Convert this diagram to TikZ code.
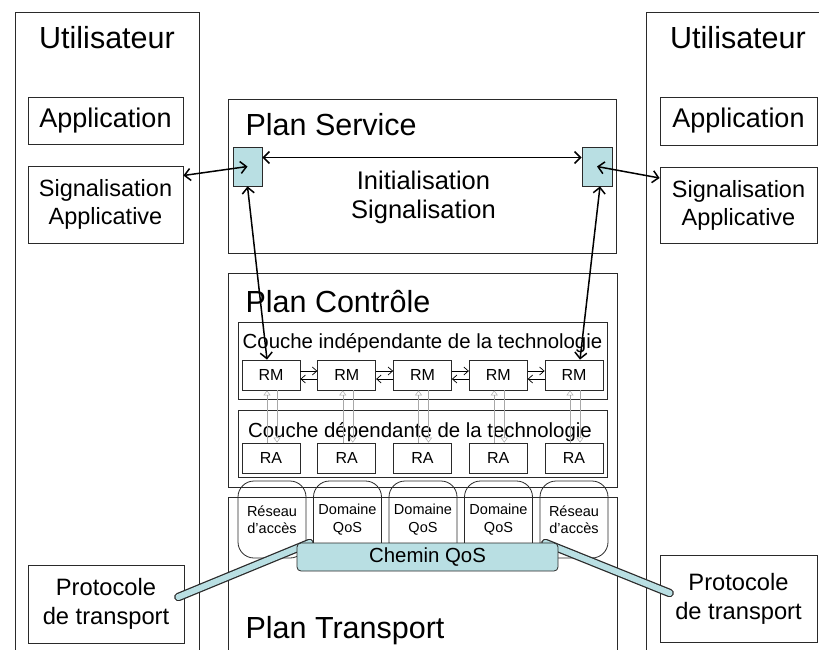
\documentclass[tikz,border=0pt]{standalone}
\usepackage{fontspec}
\setmainfont{Liberation Sans}
\usetikzlibrary{arrows.meta,backgrounds}
\definecolor{qoscyan}{HTML}{B9DFE3}
\definecolor{framegray}{HTML}{2A2A2A}
\definecolor{linkgray}{HTML}{A8A8A8}
\pgfdeclarelayer{tubes}
\pgfdeclarelayer{front}
\pgfsetlayers{background,main,tubes,front}

\tikzset{
  frame/.style={draw=framegray,line width=0.8pt},
  box/.style={frame,inner sep=0pt,align=center},
  sig/.style={line width=1.5pt,{Straight Barb[length=6pt,width=12pt]}-{Straight Barb[length=6pt,width=12pt]}},
  rmlink/.style={line width=0.7pt,-{Straight Barb[length=4.5pt,width=8pt]}},
  galink/.style={draw=linkgray,line width=0.5pt,-{Triangle[open,length=5pt,width=7pt]}},
  tube/.style={draw=framegray,line width=8.5pt,line cap=round,
    postaction={draw=qoscyan,line width=6pt,line cap=round}},
  bigtxt/.style={font=\fontsize{30.5}{36}\selectfont},
}

\begin{document}
\begin{tikzpicture}[x=1pt,y=-1pt]
  \clip (0,0) rectangle (819,649);
  \fill[white] (0,0) rectangle (819,649);

  % colonnes utilisateur
  \draw[frame] (15,660) |- (199,12) -- (199,660);
  \draw[frame] (646,660) |- (830,12);
  \node[bigtxt,anchor=base] (user1) at (107,48) {Utilisateur};
  \node[bigtxt,anchor=base] (user2) at (738,48) {Utilisateur};
  \node[box,minimum width=155pt,minimum height=47pt,font=\fontsize{27}{32}\selectfont] (app1) at (105.5,120.5) {Application};
  \node[box,minimum width=157pt,minimum height=48pt,font=\fontsize{27}{32}\selectfont] (app2) at (738.5,121) {Application};
  \node[box,minimum width=155pt,minimum height=77pt,font=\fontsize{23.5}{28}\selectfont] (sig1) at (105.5,204.5) {Signalisation\\Applicative};
  \node[box,minimum width=157pt,minimum height=76pt,font=\fontsize{23.5}{28}\selectfont] (sig2) at (738.5,205) {Signalisation\\Applicative};
  \node[box,minimum width=156pt,minimum height=78pt,font=\fontsize{23.7}{29}\selectfont] (proto1) at (106,604) {Protocole\\de transport};
  \node[box,minimum width=157pt,minimum height=87pt,font=\fontsize{23.7}{29}\selectfont] (proto2) at (738.5,598.5) {Protocole\\de transport};

  % plan service
  \draw[frame] (228,99) rectangle (616,253);
  \node[bigtxt,anchor=base west] (service) at (242,135) {Plan Service};
  \node[font=\fontsize{25.5}{29}\selectfont,align=center] (init) at (423.5,197) {Initialisation\\Signalisation};
  \node[box,fill=qoscyan,minimum width=29pt,minimum height=39pt] (sq1) at (247.5,166.5) {};
  \node[box,fill=qoscyan,minimum width=30pt,minimum height=39pt] (sq2) at (597,166.5) {};

  % plan controle
  \draw[frame] (228,273) rectangle (617,487);
  \node[bigtxt,anchor=base west] (control) at (242,312) {Plan Contrôle};
  \draw[frame] (238,322) rectangle (607,399);
  \draw[frame] (238,410) rectangle (607,477);
  \node[font=\fontsize{20.4}{24}\selectfont,anchor=base] (indep) at (422.5,348) {Couche indépendante de la technologie};
  \node[font=\fontsize{20.4}{24}\selectfont,anchor=base] (dep) at (420,437) {Couche dépendante de la technologie};

  % plan transport
  \draw[frame] (228,660) |- (617,497) -- (617,660);
  \node[bigtxt,anchor=base west] (transport) at (242,638) {Plan Transport};

  \foreach \i/\txt in {1/{Réseau\\d’accès},2/{Domaine\\QoS},3/{Domaine\\QoS},4/{Domaine\\QoS},5/{Réseau\\d’accès}} {
    \node[box,minimum width=58pt,minimum height=30pt,font=\fontsize{16}{19}\selectfont] (rm\i) at ({271+75.75*(\i-1)},375) {RM};
    \node[box,minimum width=58pt,minimum height=30pt,font=\fontsize{16}{19}\selectfont] (ra\i) at ({271+75.75*(\i-1)},458) {RA};
    \node[box,rounded corners=16pt,minimum width=68pt,minimum height=77pt,font=\fontsize{14.5}{17.5}\selectfont] (dom\i) at ({272+75.5*(\i-1)},519.5) {\txt};
    \draw[galink] ([xshift=-4pt]ra\i.north) -- ([xshift=-4pt]rm\i.south);
    \draw[galink] ([xshift=6pt]rm\i.south) -- ([xshift=6pt]ra\i.north);
  }
  \foreach \i/\j in {1/2,2/3,3/4,4/5} {
    \draw[rmlink] ([yshift=4pt]rm\i.east) -- ([yshift=4pt]rm\j.west);
    \draw[rmlink] ([yshift=-4pt]rm\j.west) -- ([yshift=-4pt]rm\i.east);
  }

  % chemin QoS
  \begin{pgfonlayer}{front}
    \node[box,fill=qoscyan,rounded corners=4pt,minimum width=261pt,minimum height=28pt,font=\fontsize{20.4}{24}\selectfont] (chemin) at (427.5,557) {Chemin QoS};
  \end{pgfonlayer}
  \begin{pgfonlayer}{tubes}
    \draw[tube] ([xshift=13pt,yshift=14pt]chemin.west) -- ([xshift=-6pt,yshift=7pt]proto1.east);
    \draw[tube] ([xshift=-13pt,yshift=14pt]chemin.east) -- ([xshift=10pt,yshift=5.5pt]proto2.west);
  \end{pgfonlayer}

  % signalisation
  \draw[sig] ([yshift=29pt]sig1.east) -- (sq1.center);
  \draw[sig] ([yshift=9pt]sq1.east) -- ([yshift=9pt]sq2.west);
  \draw[sig] (sq2.center) -- ([yshift=27pt]sig2.west);
  \draw[sig] (sq1.south) -- ([xshift=-4pt]rm1.north);
  \draw[sig] ([xshift=3pt]sq2.south) -- ([xshift=6pt]rm5.north);
\end{tikzpicture}
\end{document}
